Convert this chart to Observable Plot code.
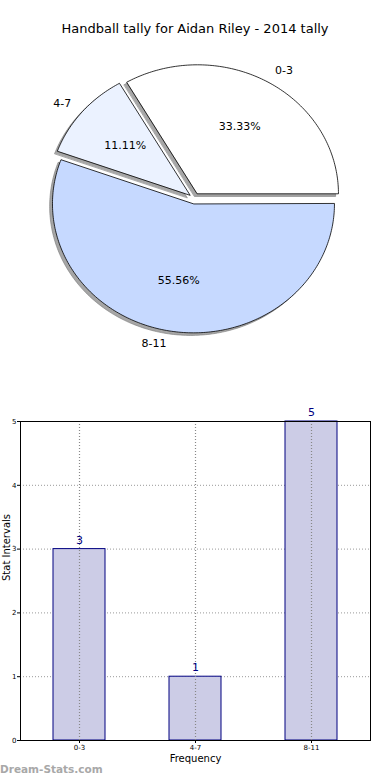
<!DOCTYPE html>
<html><head><meta charset="utf-8">
<script src="https://cdn.jsdelivr.net/npm/d3@7"></script>
<script src="https://cdn.jsdelivr.net/npm/@observablehq/plot@0.6"></script>
<style>
body{margin:0;background:#fff;font-family:"DejaVu Sans",sans-serif;}
#wrap{position:relative;width:390px;height:780px;overflow:hidden;background:#fff;}
#title{position:absolute;top:21px;left:0;width:390px;text-align:center;font-size:13px;color:#000;line-height:16px;}
#pie{position:absolute;top:45px;left:0;}
#bar{position:absolute;top:400px;left:0;}
#wm{position:absolute;left:0;top:763px;font-size:10.5px;font-weight:bold;color:#a8a8a8;}
</style></head>
<body><div id="wrap">
<div id="title">Handball tally for Aidan Riley - 2014 tally</div>
<div id="pie"></div><div id="bar"></div>
<div id="wm">Dream-Stats.com</div>
</div>
<script>
const categories = ["0-3", "4-7", "8-11"];
const counts = [3, 1, 5];
const sliceColors = ["#ffffff", "#ebf2ff", "#c6d9ff"];
const yTicks = [0, 1, 2, 3, 4, 5];

const total = d3.sum(counts);
const explode = 0.042;
let acc = 0;
const slices = categories.map((c, i) => {
  const frac = counts[i] / total;
  const s = acc, e = acc + frac * 2 * Math.PI;
  acc = e;
  const mid = (s + e) / 2;
  return {cat: c, i, frac, s, e, mid, ox: explode * Math.cos(mid), oy: explode * Math.sin(mid)};
});
const pts = [];
for (const sl of slices) {
  pts.push({cat: sl.cat, x: sl.ox, y: sl.oy, fill: sliceColors[sl.i]});
  const n = Math.ceil((sl.e - sl.s) / (Math.PI / 180));
  for (let k = 0; k <= n; k++) {
    const a = sl.s + (sl.e - sl.s) * k / n;
    pts.push({cat: sl.cat, x: sl.ox + Math.cos(a), y: sl.oy + Math.sin(a), fill: sliceColors[sl.i]});
  }
}
const lab = slices.map(d => ({...d, lx: d.ox + 1.1 * Math.cos(d.mid), ly: d.oy + 1.1 * Math.sin(d.mid),
  px: d.ox + 0.6 * Math.cos(d.mid), py: d.oy + 0.6 * Math.sin(d.mid)}));

const pie = Plot.plot({
  width: 390, height: 310, margin: 0,
  x: {domain: [-194 / 141, 196 / 141], axis: null},
  y: {domain: [-(310 - 153) / 129, 153 / 129], axis: null},
  style: {fontFamily: "DejaVu Sans", fontSize: "11px", background: "transparent"},
  marks: [
    Plot.line(pts, {x: d => d.x - 0.02, y: d => d.y - 0.02, z: "cat", fill: "#4d4d4d", fillOpacity: 0.5, stroke: "#777", strokeWidth: 0.6, curve: "linear-closed"}),
    Plot.line(pts, {x: "x", y: "y", z: "cat", fill: "fill", stroke: "black", strokeWidth: 0.8, curve: "linear-closed"}),
    Plot.text(lab.filter(d => d.lx >= 0), {x: "lx", y: "ly", text: "cat", textAnchor: "start", fill: "black"}),
    Plot.text(lab.filter(d => d.lx < 0), {x: "lx", y: "ly", text: "cat", textAnchor: "end", fill: "black"}),
    Plot.text(lab, {x: "px", y: "py", text: d => (d.frac * 100).toFixed(2) + "%", fill: "black"})
  ]
});
document.getElementById("pie").appendChild(pie);

const data = categories.map((c, i) => ({cat: c, count: counts[i]}));
const bar = Plot.plot({
  width: 390, height: 375, marginLeft: 20, marginRight: 20, marginTop: 21, marginBottom: 35,
  x: {domain: categories, paddingInner: 0.55, paddingOuter: 0.275, label: null, axis: null},
  y: {domain: [0, 5], label: null, axis: null},
  style: {fontFamily: "DejaVu Sans", fontSize: "7px", background: "transparent"},
  marks: [
    Plot.gridY(yTicks, {stroke: "#999", strokeOpacity: 1, strokeDasharray: "1,2"}),
    Plot.barY(data, {x: "cat", y: "count", fill: "#ccccE6", stroke: "#000080", strokeWidth: 1}),
    Plot.gridX(categories, {stroke: "#888", strokeOpacity: 1, strokeDasharray: "1,2", strokeWidth: 1.2}),
    Plot.frame({stroke: "black", strokeWidth: 1}),
    Plot.axisY(yTicks, {tickSize: 3, tickPadding: 1, fontSize: 7, label: null, tickFormat: d => String(d)}),
    Plot.axisX({tickSize: 3, tickPadding: 2, fontSize: 7, label: null}),
    Plot.text(data, {x: "cat", y: "count", text: d => String(d.count), dy: -9, fill: "#000080", fontSize: 11}),
    Plot.text(["Frequency"], {frameAnchor: "bottom", dy: 21, text: d => d, fontSize: 10, fill: "black"}),
    Plot.text(["Stat Intervals"], {frameAnchor: "left", rotate: -90, dx: -14, text: d => d, fontSize: 10, fill: "black"})
  ]
});
document.getElementById("bar").appendChild(bar);
</script>
</body></html>
